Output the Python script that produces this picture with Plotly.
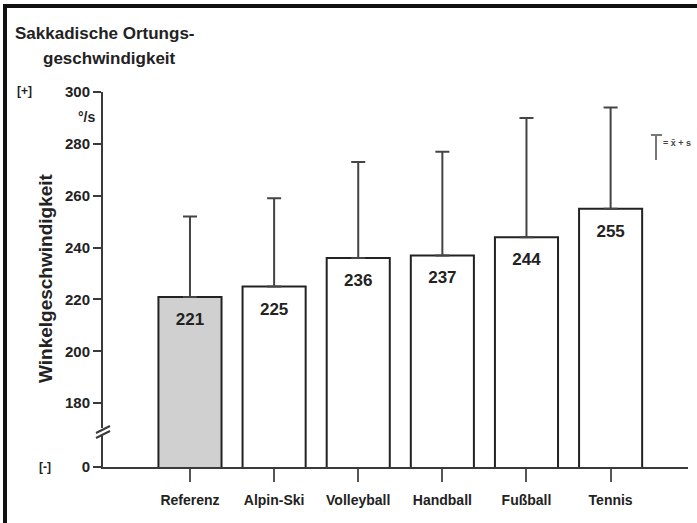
import plotly.graph_objects as go

categories = ["Referenz", "Alpin-Ski", "Volleyball", "Handball", "Fußball", "Tennis"]
means = [221, 225, 236, 237, 244, 255]
mean_plus_sd = [252, 259, 273, 277, 290, 294]
bar_colors = ["#d0d0d0", "#ffffff", "#ffffff", "#ffffff", "#ffffff", "#ffffff"]
y_tick_values = [180, 200, 220, 240, 260, 280, 300]
axis_zero_value = 155.4  # position where the broken axis shows "0"

W, H = 697, 523
ML, MR, MT, MB = 103, 9, 92, 56
PW, PH = W - ML - MR, H - MT - MB

def px(x):
    return (x - ML) / PW

def py(y):
    return (H - MB - y) / PH

FONT = "Liberation Sans, Arial, sans-serif"
DARK = "#222222"
LINE = "#3a3a3a"

sd_up = [t - m for t, m in zip(mean_plus_sd, means)]
x_idx = list(range(len(categories)))

fig = go.Figure()
fig.add_trace(go.Bar(
    x=x_idx, y=means, width=0.75,
    marker=dict(color=bar_colors, line=dict(color=DARK, width=2)),
    error_y=dict(type="data", symmetric=False, array=sd_up, arrayminus=[0]*len(means),
                 color="#444444", thickness=2, width=7),
    hoverinfo="skip",
))
fig.add_trace(go.Scatter(
    x=x_idx, y=[m - 9.2 for m in means], mode="text",
    text=[str(m) for m in means],
    textfont=dict(family=FONT, size=17, color=DARK, weight="bold"),
    hoverinfo="skip",
))

fig.update_layout(
    width=W, height=H,
    margin=dict(l=ML, r=MR, t=MT, b=MB, pad=0),
    plot_bgcolor="white", paper_bgcolor="white",
    showlegend=False,
    font=dict(family=FONT, color=DARK),
    xaxis=dict(
        range=[-1.034, 5.92], tickvals=x_idx, ticktext=categories,
        showline=True, linecolor=LINE, linewidth=2,
        ticks="outside", ticklen=13, tickwidth=2, tickcolor="#555555",
        ticklabelstandoff=6,
        showgrid=False, zeroline=False,
        tickfont=dict(family=FONT, size=14, color=DARK, weight="bold"),
    ),
    yaxis=dict(
        range=[axis_zero_value, 300],
        tickvals=[axis_zero_value] + y_tick_values,
        ticktext=["0"] + [str(v) for v in y_tick_values],
        showline=True, linecolor=LINE, linewidth=2,
        ticks="outside", ticklen=8, tickwidth=2, tickcolor=LINE,
        showgrid=False, zeroline=False,
        tickfont=dict(family=FONT, size=15, color=DARK, weight="bold"),
    ),
)

ann = []
def add_text(text, x, y, size, xanchor="left", bold=True, angle=0, color=DARK):
    ann.append(dict(text=text, x=px(x), y=py(y), xref="paper", yref="paper",
                    xanchor=xanchor, yanchor="middle", showarrow=False, textangle=angle,
                    font=dict(family=FONT, size=size, color=color,
                              weight="bold" if bold else "normal")))

add_text("Sakkadische Ortungs-", 13, 33, 17)
add_text("geschwindigkeit", 41, 58, 17)
add_text("[+]", 15, 91, 12)
add_text("[-]", 37, 467, 12)
add_text("°/s", 76, 117, 14)
add_text("Winkelgeschwindigkeit", 45, 278, 19, xanchor="center", angle=-90)
add_text("= x̄ + s", 661, 143, 9, color="#444444")
fig.update_layout(annotations=ann)

shapes = []
def line(x0, y0, x1, y1, color=LINE, width=2):
    shapes.append(dict(type="line", xref="paper", yref="paper",
                       x0=px(x0), y0=py(y0), x1=px(x1), y1=py(y1),
                       line=dict(color=color, width=width)))

# image frame (top and left)
line(3, 6, 697, 6, color="#111111", width=4)
line(5, 4, 5, 523, color="#111111", width=4)
# axis break marks
shapes.append(dict(type="rect", xref="paper", yref="paper",
                   x0=px(100), x1=px(106), y0=py(436), y1=py(428),
                   fillcolor="white", line=dict(width=0)))
line(96, 433, 110, 426)
line(96, 438, 110, 431)
# legend symbol
line(651, 135, 662, 135, color="#777777", width=2)
line(656, 135, 656, 160, color="#777777", width=2)
fig.update_layout(shapes=shapes)

fig.write_html("out.html", config={"displayModeBar": False},
               post_script="document.body.style.margin='0px';document.body.style.overflow='hidden';")
